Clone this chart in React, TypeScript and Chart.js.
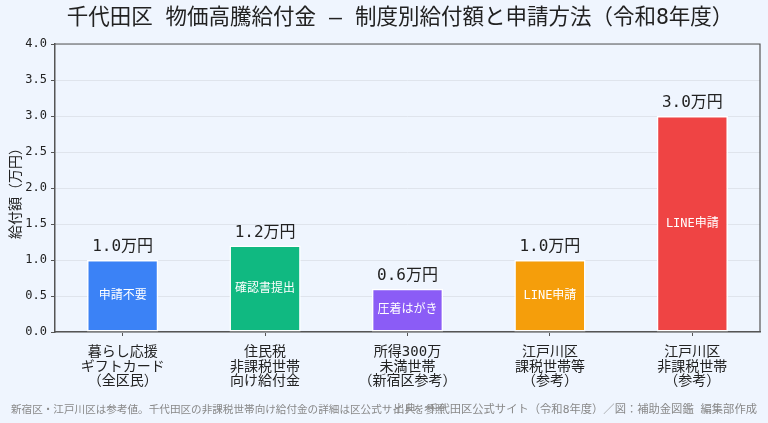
import React, { useRef, useEffect } from 'react';
import { Chart, registerables } from 'chart.js';

Chart.register(...registerables);

const FONT = "'DejaVu Sans Mono', 'Noto Sans CJK JP', monospace";

const categories = [
  ['暮らし応援', 'ギフトカード', '（全区民）'],
  ['住民税', '非課税世帯', '向け給付金'],
  ['所得300万', '未満世帯', '（新宿区参考）'],
  ['江戸川区', '課税世帯等', '（参考）'],
  ['江戸川区', '非課税世帯', '（参考）'],
];
const amounts = [1.0, 1.2, 0.6, 1.0, 3.0];
const methods = ['申請不要', '確認書提出', '圧着はがき', 'LINE申請', 'LINE申請'];
const barColors = ['#3b82f6', '#10b981', '#8b5cf6', '#f59e0b', '#ef4444'];

const title = '千代田区 物価高騰給付金 — 制度別給付額と申請方法（令和8年度）';
const yTitle = '給付額（万円）';
const note = '新宿区・江戸川区は参考値。千代田区の非課税世帯向け給付金の詳細は区公式サイトを参照';
const source = '出典：千代田区公式サイト（令和8年度）／図：補助金図鑑 編集部作成';

const decorations = {
  id: 'decorations',
  beforeDraw(chart: any) {
    const { ctx, width, height } = chart;
    ctx.save();
    ctx.fillStyle = '#eff5fe';
    ctx.fillRect(0, 0, width, height);
    ctx.restore();
  },
  afterDraw(chart: any) {
    const { ctx, chartArea } = chart;
    const { left, right, top, bottom } = chartArea;
    ctx.save();

    // top and right frame
    ctx.strokeStyle = '#555';
    ctx.lineWidth = 1.2;
    ctx.beginPath();
    ctx.moveTo(left, top);
    ctx.lineTo(right, top);
    ctx.lineTo(right, bottom);
    ctx.stroke();

    const meta = chart.getDatasetMeta(0);
    meta.data.forEach((bar: any, i: number) => {
      ctx.textAlign = 'center';
      ctx.fillStyle = '#222';
      ctx.font = `16px ${FONT}`;
      ctx.textBaseline = 'bottom';
      ctx.fillText(`${amounts[i].toFixed(1)}万円`, bar.x, bar.y - 5);

      ctx.fillStyle = '#ffffff';
      ctx.font = `12px ${FONT}`;
      ctx.textBaseline = 'middle';
      ctx.fillText(methods[i], bar.x, (bar.y + bar.base) / 2);
    });

    // title
    ctx.fillStyle = '#222';
    ctx.font = `21.5px ${FONT}`;
    ctx.textAlign = 'center';
    ctx.textBaseline = 'middle';
    ctx.fillText(title, 400, 18);

    // y axis title
    ctx.save();
    ctx.translate(16, (top + bottom) / 2 + 2);
    ctx.rotate(-Math.PI / 2);
    ctx.font = `14px ${FONT}`;
    ctx.fillText(yTitle, 0, 0);
    ctx.restore();

    // footer
    ctx.fillStyle = '#888';
    ctx.textBaseline = 'middle';
    ctx.textAlign = 'left';
    ctx.font = `10.6px ${FONT}`;
    ctx.fillText(note, 11, 410);
    ctx.textAlign = 'right';
    ctx.font = `11.3px ${FONT}`;
    ctx.fillText(source, 757, 410);

    ctx.restore();
  },
};

const App = () => {
  const chartRef = useRef<HTMLCanvasElement>(null);

  useEffect(() => {
    document.body.style.margin = '0';
    const ctx = chartRef.current?.getContext('2d');
    if (!ctx) return;
    const chart = new Chart(ctx, {
      type: 'bar',
      data: {
        datasets: [
          {
            data: amounts.map((v, i) => ({ x: i, y: v })),
            backgroundColor: barColors,
            borderColor: '#ffffff',
            borderWidth: 1.5,
            borderSkipped: false,
            barPercentage: 0.5,
            categoryPercentage: 1.0,
          },
        ],
      },
      options: {
        responsive: false,
        animation: false,
        layout: { padding: { top: 44, right: 8, bottom: 0, left: 0 } },
        plugins: {
          legend: { display: false },
          tooltip: { enabled: false },
        },
        scales: {
          x: {
            type: 'linear',
            offset: false,
            min: -0.475,
            max: categories.length - 1 + 0.475,
            afterBuildTicks: (s: any) => {
              s.ticks = categories.map((_, i) => ({ value: i }));
            },
            afterFit: (s: any) => {
              s.height = 91;
            },
            grid: {
              offset: false,
              drawOnChartArea: false,
              tickColor: '#555',
              tickLength: 4,
            },
            border: { color: '#555', width: 1.5 },
            ticks: {
              color: '#222',
              padding: 9,
              maxRotation: 0,
              autoSkip: false,
              font: { family: FONT, size: 14, lineHeight: 1.05 },
              callback: (v: any) => categories[v] ?? '',
            },
          },
          y: {
            min: 0,
            max: 4,
            afterFit: (s: any) => {
              s.width = 55;
            },
            grid: {
              color: '#dfe4ec',
              tickColor: '#555',
              tickLength: 4,
            },
            border: { color: '#555', width: 1.5 },
            ticks: {
              stepSize: 0.5,
              color: '#222',
              padding: 4,
              font: { family: FONT, size: 12 },
              callback: (v: any) => Number(v).toFixed(1),
            },
          },
        },
      },
      plugins: [decorations],
    });
    return () => {
      chart.destroy();
    };
  }, []);

  return <canvas ref={chartRef} width={768} height={423}></canvas>;
};

export default App;
